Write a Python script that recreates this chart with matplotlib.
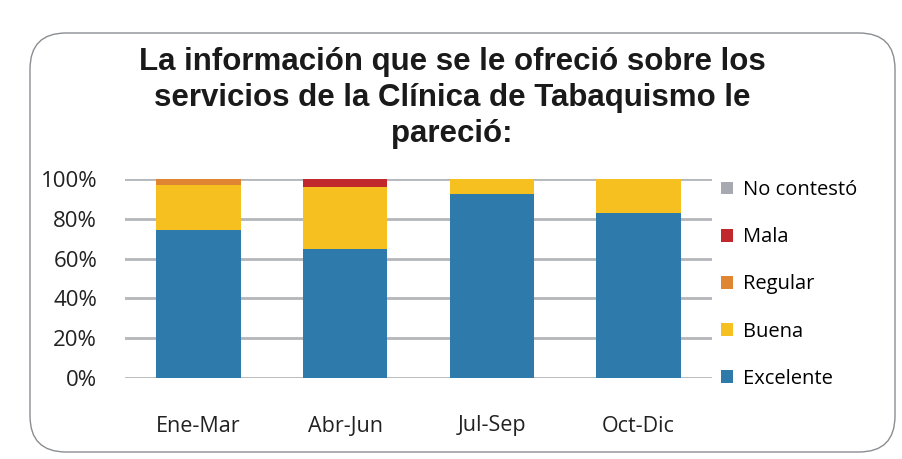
import matplotlib.pyplot as plt
import numpy as np
from matplotlib.patches import FancyBboxPatch

# data (percent)
periods = ["Ene-Mar", "Abr-Jun", "Jul-Sep", "Oct-Dic"]
excelente = [74.5, 65, 92.5, 83]
buena = [22.5, 31, 7.5, 17]
regular = [3, 0, 0, 0]
mala = [0, 4, 0, 0]
no_contesto = [0, 0, 0, 0]

series = [
    ("Excelente", excelente, "#2E7BAB"),
    ("Buena", buena, "#F6C120"),
    ("Regular", regular, "#E08531"),
    ("Mala", mala, "#C0282E"),
    ("No contestó", no_contesto, "#A6AAB0"),
]

fig = plt.figure(figsize=(9.02, 4.59), dpi=100)

# rounded frame around the chart
frame = FancyBboxPatch((30 / 902, 7 / 459), 865 / 902, 419 / 459,
                       boxstyle="round,pad=0,rounding_size=0.04",
                       transform=fig.transFigure, facecolor="none",
                       edgecolor="#8a8d91", linewidth=1.0, mutation_aspect=902 / 459)
fig.patches.append(frame)

ax = fig.add_axes([125 / 902, 1 - 378 / 459, 587 / 902, 199 / 459])

x = np.arange(len(periods))
bottom = np.zeros(len(periods))
handles = []
for name, vals, col in series:
    b = ax.bar(x, vals, 0.575, bottom=bottom, color=col, label=name, zorder=3)
    bottom += np.array(vals)
    handles.append(b)

ax.set_xlim(-0.5, 3.5)
ax.set_ylim(0, 100)
ax.set_yticks(range(0, 101, 20))
ax.set_yticklabels([f"{v}%" for v in range(0, 101, 20)], fontsize=16, family="Open Sans", color="#222222")
ax.set_xticks(x)
ax.set_xticklabels(periods, fontsize=15.5, family="Open Sans", color="#222222")
ax.tick_params(axis="x", length=0, pad=27)
ax.tick_params(axis="y", length=0, pad=20)
ax.yaxis.grid(True, color="#b3b6ba", linewidth=2, zorder=0)
for s in ax.spines.values():
    s.set_visible(False)

leg = ax.legend(handles[::-1], [s[0] for s in series][::-1], loc="center left",
                bbox_to_anchor=(0.995, 0.47), frameon=False, handlelength=0.6,
                handleheight=0.6, handletextpad=0.5, labelspacing=1.35,
                borderaxespad=0.2, prop={"family": "Open Sans", "size": 14.5})

fig.text(452 / 902, 1 - 98 / 459,
         "La información que se le ofreció sobre los\nservicios de la Clínica de Tabaquismo le\npareció:",
         ha="center", va="center", fontsize=22.5, fontweight="bold",
         family="Liberation Sans", linespacing=1.25, color="#1a1a1a")

fig.savefig("out.png", dpi=100)
